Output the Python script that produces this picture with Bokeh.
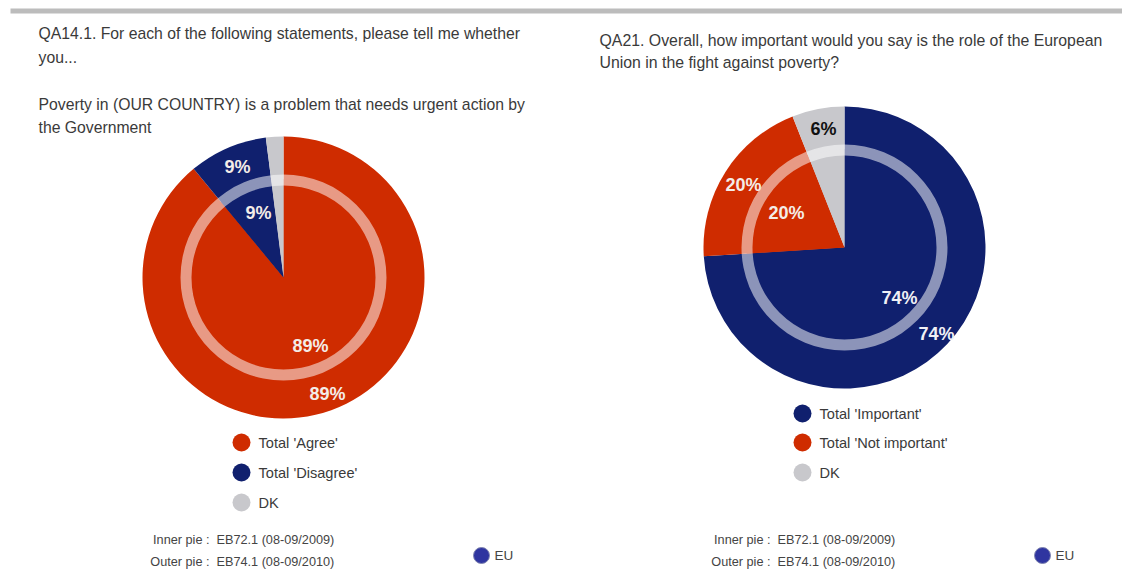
import math
from bokeh.plotting import figure
from bokeh.models import Range1d
from bokeh.core.properties import value
from bokeh.embed import file_html
from bokeh.resources import INLINE

RED, NAVY, GREY = "#cf2c00", "#10206e", "#c8c8cc"
FONT = "Liberation Sans"

left_names = ["Total 'Agree'", "Total 'Disagree'", "DK"]
left_outer = [89, 9, 2]
left_inner = [89, 9, 2]
left_colors = [RED, NAVY, GREY]
right_names = ["Total 'Important'", "Total 'Not important'", "DK"]
right_outer = [74, 20, 6]
right_inner = [74, 20, 6]
right_colors = [NAVY, RED, GREY]

left_title = ["QA14.1. For each of the following statements, please tell me whether", "you...", "",
              "Poverty in (OUR COUNTRY) is a problem that needs urgent action by", "the Government"]
right_title = ["QA21. Overall, how important would you say is the role of the European",
               "Union in the fight against poverty?"]
foot_keys = ["Inner pie :", "Outer pie :"]
foot_vals = ["EB72.1 (08-09/2009)", "EB74.1 (08-09/2010)"]

p = figure(width=1122, height=569, output_backend="svg", toolbar_location=None,
           x_range=Range1d(0, 1122), y_range=Range1d(-569, 0),
           x_axis_type=None, y_axis_type=None, min_border=0)
p.grid.visible = False
p.outline_line_color = None
p.background_fill_color = "white"


def wedges(vals):
    total = sum(vals)
    cum, starts, ends = 0, [], []
    for v in vals:
        ends.append(math.pi / 2 - cum / total * 2 * math.pi)
        cum += v
        starts.append(math.pi / 2 - cum / total * 2 * math.pi)
    return starts, ends


def txt(x, y, s, size=16.0, color="#3a3a3a", align="left", bold=False):
    p.text([x], [-y], text=[s], text_font=value(FONT), text_font_size=f"{size}px",
           text_color=color, text_align=align, text_baseline="middle",
           text_font_style="bold" if bold else "normal")


def pie(cx, cy, outer, inner, colors):
    s, e = wedges(outer)
    p.wedge([cx] * 3, [-cy] * 3, radius=141, start_angle=s, end_angle=e, fill_color=colors, line_color=None)
    s, e = wedges(inner)
    p.wedge([cx] * 3, [-cy] * 3, radius=98, start_angle=s, end_angle=e, fill_color=colors, line_color=None)
    p.annular_wedge([cx], [-cy], inner_radius=92, outer_radius=103, start_angle=0, end_angle=2 * math.pi,
                    fill_color="white", fill_alpha=0.52, line_color=None)


def legend(cx, tx, ys, names, colors):
    for y, n, c in zip(ys, names, colors):
        p.scatter([cx], [-y], size=18, marker="circle", fill_color=c, line_color=None)
        txt(tx, y, n, size=14.6)


def foot(x, ex, ey):
    for y, k, v in zip([539, 561], foot_keys, foot_vals):
        txt(x, y, k, size=12.7, align="right", color="#444444")
        txt(x + 7, y, v, size=12.7, color="#444444")
    p.scatter([ex], [-ey], size=16, marker="circle", fill_color="#2f35a0", line_color="#7f84b0", line_width=1)
    txt(ex + 13, ey, "EU", size=13.5, color="#444444")


# top rule
p.quad(left=[10], right=[1122], top=[-8], bottom=[-13], fill_color="#bcbcbc", line_color=None)

for i, s in enumerate(left_title):
    if s:
        txt(38, 33 + i * 23.5, s, size=15.75)
for i, s in enumerate(right_title):
    txt(599, 40 + i * 22, s, size=15.85)

pie(283, 277, left_outer, left_inner, left_colors)
pie(844, 247, right_outer, right_inner, right_colors)

for x, y, s in [(237, 166, "9%"), (258, 212, "9%"), (310, 345, "89%"), (327, 393, "89%")]:
    txt(x, y, s, size=18, color="#f4ece8", align="center", bold=True)
for x, y, s, c in [(823, 128, "6%", "#111111"), (743, 184, "20%", "#f4ece8"), (786, 212, "20%", "#f4ece8"),
                   (899, 297, "74%", "#f0f0f5"), (936, 333, "74%", "#f0f0f5")]:
    txt(x, y, s, size=18, color=c, align="center", bold=True)

legend(241, 258, [442, 472, 502], left_names, left_colors)
legend(802, 819, [413, 442, 472], right_names, right_colors)

foot(209, 481, 555)
foot(770, 1042, 555)

open("out.html", "w").write(file_html(p, INLINE))
